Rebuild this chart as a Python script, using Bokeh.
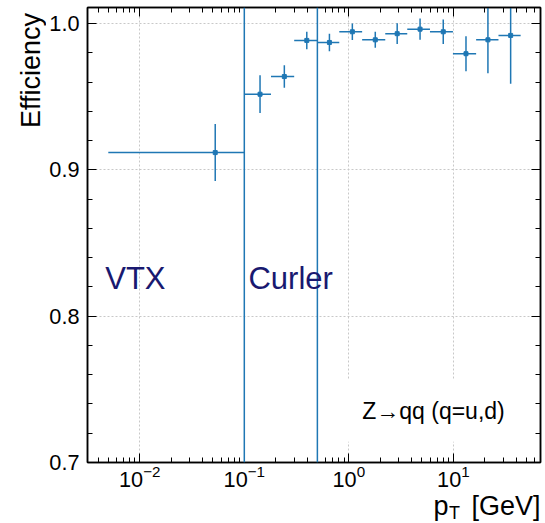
import math
from bokeh.plotting import figure
from bokeh.layouts import row, column
from bokeh.models import (Range1d, LinearAxis, LogAxis, Span, Label, FixedTicker,
                          NumeralTickFormatter)
from bokeh.core.properties import value
from bokeh.embed import file_html
from bokeh.resources import INLINE

# ---- data ----
pt_center = [0.0527, 0.1414, 0.2415, 0.396, 0.652, 1.08, 1.79, 2.9, 4.8, 8.0, 13.2, 21.4, 35.3]
pt_low = [0.005, 0.1, 0.18, 0.30, 0.5, 0.81, 1.34, 2.23, 3.62, 5.97, 9.9, 16.5, 27.0]
pt_high = [0.1, 0.18, 0.30, 0.5, 0.81, 1.34, 2.23, 3.62, 5.97, 9.9, 16.5, 27.0, 44.0]
efficiency = [0.9119, 0.9518, 0.9639, 0.9886, 0.9872, 0.9945, 0.9890, 0.9932,
              0.9963, 0.9945, 0.9795, 0.9890, 0.9920]
eff_err = [0.0195, 0.0129, 0.0077, 0.0060, 0.0060, 0.0057, 0.0055, 0.0071,
           0.0072, 0.0084, 0.0120, 0.0228, 0.0331]
region_edges = [0.1, 0.5]
region_names = ["VTX", "Curler"]
region_label_x = [0.00467, 0.1096]
region_label_y = 0.8256
legend_text = "Z\u2192qq (q=u,d)"
x_major = [0.01, 0.1, 1.0, 10.0]
y_major = [0.7, 0.8, 0.9, 1.0]
y_title = "Efficiency"
x_title_parts = ["p", "T", "[GeV]"]

BLUE = "#1f77b4"
FONT = "Liberation Sans"

W, H = 545, 523
YLAB_W = 46
XLAB_H = 33
MAIN_W = W - YLAB_W
MAIN_H = H - XLAB_H

x_minor = [m * 10.0 ** e for e in range(-3, 2) for m in range(2, 10)]
y_minor = [round(0.7 + 0.02 * i, 2) for i in range(0, 16)]

p = figure(width=MAIN_W, height=MAIN_H, x_axis_type="log",
           x_range=Range1d(10 ** -2.5, 10 ** (1 + 87.5 / 105)),
           y_range=Range1d(0.7, 1.0111),
           output_backend="svg", toolbar_location=None,
           min_border_left=85 - YLAB_W, min_border_right=5, min_border_top=7,
           min_border_bottom=MAIN_H - 462)
p.background_fill_color = "white"
p.border_fill_color = "white"
p.outline_line_color = "black"
p.outline_line_width = 1.5

bottom_axis = p.below[0]
left_axis = p.left[0]

xt = FixedTicker(ticks=x_major, minor_ticks=x_minor)
yt = FixedTicker(ticks=y_major, minor_ticks=y_minor)

top_axis = LogAxis(ticker=xt)
right_axis = LinearAxis(ticker=yt)
p.add_layout(top_axis, "above")
p.add_layout(right_axis, "right")

bottom_axis.ticker = xt
left_axis.ticker = yt
left_axis.formatter = NumeralTickFormatter(format="0.0")

for ax in [bottom_axis, left_axis, top_axis, right_axis]:
    ax.axis_line_color = "black"
    ax.axis_line_width = 1.5
    ax.major_tick_in = 9
    ax.major_tick_out = 0
    ax.minor_tick_in = 5
    ax.minor_tick_out = 0
    ax.major_tick_line_color = "black"
    ax.minor_tick_line_color = "black"
    ax.major_label_text_font = FONT
    ax.major_label_text_font_size = "21.7px"
    ax.major_label_text_color = "black"

left_axis.major_label_standoff = 8
bottom_axis.major_label_standoff = 2
for ax in [top_axis, right_axis]:
    ax.major_label_text_font_size = "1px"
    ax.major_label_text_alpha = 0
    ax.major_label_standoff = 0

p.xgrid.ticker = xt
p.ygrid.ticker = yt
for g in [p.xgrid, p.ygrid]:
    g.grid_line_color = "#c8c8c8"
    g.grid_line_dash = "2 2"
    g.grid_line_width = 1

# region boundaries
for loc in region_edges:
    p.add_layout(Span(location=loc, dimension="height", line_color=BLUE, line_width=1.5))

# error bars and points
p.segment(x0=pt_low, x1=pt_high, y0=efficiency, y1=efficiency, line_color=BLUE, line_width=1.5)
ylo = [e - d for e, d in zip(efficiency, eff_err)]
yhi = [e + d for e, d in zip(efficiency, eff_err)]
p.segment(x0=pt_center, x1=pt_center, y0=ylo, y1=yhi, line_color=BLUE, line_width=1.5)
p.scatter(x=pt_center, y=efficiency, size=4, color=BLUE, marker="square")

# region labels
for name, lx in zip(region_names, region_label_x):
    p.add_layout(Label(x=lx, y=region_label_y, text=name, text_font=FONT,
                       text_font_size="31px", text_color="#191970",
                       text_align="left", text_baseline="middle"))

# legend-like text box
p.add_layout(Label(x=6.45, y=0.7353, text=legend_text, text_font=FONT,
                   text_font_size="23px", text_color="black", text_align="center",
                   text_baseline="middle", background_fill_color="white",
                   padding=18))


def blank_fig(w, h):
    f = figure(width=w, height=h, x_range=Range1d(0, w), y_range=Range1d(0, h),
               output_backend="svg", toolbar_location=None, min_border=0,
               x_axis_location=None, y_axis_location=None)
    f.outline_line_color = None
    f.background_fill_color = "white"
    f.border_fill_color = "white"
    f.xgrid.visible = False
    f.ygrid.visible = False
    return f


# y-axis title (own strip on the left)
yfig = blank_fig(YLAB_W, MAIN_H)
yfig.text(x=[30.5], y=[MAIN_H - 6], text=[y_title], angle=math.pi / 2,
          text_align="right", text_baseline="middle", text_font=value(FONT),
          text_font_size=value("27px"), text_color="black")

# x-axis title (own strip at the bottom): p, subscript T, [GeV]
xfig = blank_fig(W, XLAB_H)
xfig.text(x=[433], y=[H - 505.8], text=[x_title_parts[0]], text_align="left",
          text_baseline="middle", text_font=value(FONT), text_font_size=value("27px"),
          text_color="black")
xfig.text(x=[448.5], y=[H - 512.2], text=[x_title_parts[1]], text_align="left",
          text_baseline="middle", text_font=value(FONT), text_font_size=value("18px"),
          text_color="black")
xfig.text(x=[540], y=[H - 505.8], text=[x_title_parts[2]], text_align="right",
          text_baseline="middle", text_font=value(FONT), text_font_size=value("27px"),
          text_color="black")

layout = column(row(yfig, p, spacing=0), xfig, spacing=0)

open("out.html", "w").write(file_html(layout, INLINE))
